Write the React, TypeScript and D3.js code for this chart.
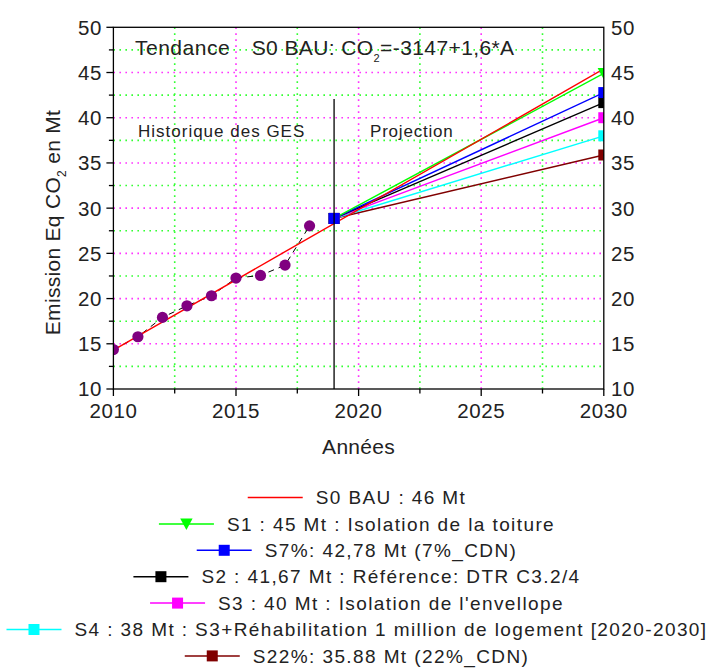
import React, { useEffect, useRef } from 'react';
import * as d3 from 'd3';

// ---------- data ----------
const histYears = [2010, 2011, 2012, 2013, 2014, 2015, 2016, 2017, 2018];
const histValues = [14.36, 15.78, 17.92, 19.2, 20.31, 22.27, 22.56, 23.7, 28.04];
const trendYears = [2010, 2030];
const trendValues = [14.3, 45.4];
const projStartYear = 2019;
const projStartValue = 28.86;
const projEndYear = 2030;
const scenarioNames = ['S1', 'S7%', 'S2', 'S3', 'S4', 'S22%'];
const scenarioEnd = [44.9, 42.78, 41.67, 40, 38, 35.88];
const scenarioColors = ['#00ff00', '#0000ff', '#000000', '#ff00ff', '#00ffff', '#800000'];
const scenarioMarkers = ['triangle', 'square', 'square', 'square', 'square', 'square'];
const legendLabels = [
  'S0 BAU : 46 Mt',
  'S1 : 45 Mt : Isolation de la toiture',
  'S7%: 42,78 Mt (7%_CDN)',
  'S2 : 41,67 Mt : Référence: DTR C3.2/4',
  "S3 : 40 Mt : Isolation de l'envellope",
  'S4 : 38 Mt : S3+Réhabilitation 1 million de logement [2020-2030]',
  'S22%: 35.88 Mt (22%_CDN)',
];
const legendColors = ['#ff0000', ...scenarioColors];
const legendMarkers = ['none', ...scenarioMarkers];
const xMajorTicks = [2010, 2015, 2020, 2025, 2030];
const xMinorTicks = [2012.5, 2017.5, 2022.5, 2027.5];
const yMajorTicks = [10, 15, 20, 25, 30, 35, 40, 45, 50];
const yMinorTicks = [12.5, 17.5, 22.5, 27.5, 32.5, 37.5, 42.5, 47.5];

// ---------- layout ----------
const W = 713;
const H = 668;
const PL = 113.4;
const PR = 603.8;
const PT = 27.3;
const PB = 389;
const FONT = "'Liberation Sans', Arial, sans-serif";
const TXT = '#222';

export default function App() {
  const ref = useRef<SVGSVGElement | null>(null);

  useEffect(() => {
    const svg = d3.select(ref.current);
    svg.selectAll('*').remove();

    const x = d3.scaleLinear().domain([2010, 2030]).range([PL, PR]);
    const y = d3.scaleLinear().domain([10, 50]).range([PB, PT]);

    const defs = svg.append('defs');
    defs.append('clipPath').attr('id', 'plotclip')
      .append('rect').attr('x', PL).attr('y', PT).attr('width', PR - PL).attr('height', PB - PT);

    // grid
    const grid = svg.append('g');
    const gridStyle = (sel: any, color: string) =>
      sel.attr('stroke', color).attr('stroke-width', 1.6).attr('stroke-dasharray', '1.6,4.4');
    xMinorTicks.forEach((t) => gridStyle(grid.append('line').attr('x1', x(t)).attr('x2', x(t)).attr('y1', PT).attr('y2', PB), '#33ff33'));
    yMinorTicks.forEach((t) => gridStyle(grid.append('line').attr('x1', PL).attr('x2', PR).attr('y1', y(t)).attr('y2', y(t)), '#33ff33'));
    xMajorTicks.slice(1, -1).forEach((t) => gridStyle(grid.append('line').attr('x1', x(t)).attr('x2', x(t)).attr('y1', PT).attr('y2', PB), '#ff33ff'));
    yMajorTicks.slice(1, -1).forEach((t) => gridStyle(grid.append('line').attr('x1', PL).attr('x2', PR).attr('y1', y(t)).attr('y2', y(t)), '#ff33ff'));

    const plot = svg.append('g').attr('clip-path', 'url(#plotclip)');
    const line = d3.line<[number, number]>().x((d) => x(d[0])).y((d) => y(d[1]));

    // historical dashed connection
    plot.append('path')
      .attr('d', line(histYears.map((yr, i) => [yr, histValues[i]] as [number, number])))
      .attr('fill', 'none').attr('stroke', '#000').attr('stroke-width', 1).attr('stroke-dasharray', '6,5');

    // scenario lines (reverse so green lies above)
    scenarioNames.map((_, i) => i).reverse().forEach((i) => {
      plot.append('path')
        .attr('d', line([[projStartYear, projStartValue], [projEndYear, scenarioEnd[i]]]))
        .attr('fill', 'none').attr('stroke', scenarioColors[i]).attr('stroke-width', 1.4);
    });

    // trend line
    plot.append('path')
      .attr('d', line(trendYears.map((yr, i) => [yr, trendValues[i]] as [number, number])))
      .attr('fill', 'none').attr('stroke', '#ff0000').attr('stroke-width', 1.4);

    // 2019 separator
    svg.append('line').attr('x1', x(projStartYear)).attr('x2', x(projStartYear))
      .attr('y1', 99).attr('y2', PB).attr('stroke', '#000').attr('stroke-width', 1.3);

    const drawMarker = (g: any, type: string, cx: number, cy: number, color: string) => {
      if (type === 'square') {
        g.append('rect').attr('x', cx - 5.5).attr('y', cy - 5.5).attr('width', 11).attr('height', 11).attr('fill', color);
      } else if (type === 'triangle') {
        g.append('path').attr('d', `M${cx - 6.2},${cy - 5.5}L${cx + 6.2},${cy - 5.5}L${cx},${cy + 6}Z`).attr('fill', color);
      }
    };

    // historical points
    histYears.forEach((yr, i) => {
      plot.append('circle').attr('cx', x(yr)).attr('cy', y(histValues[i])).attr('r', 5.6).attr('fill', '#800080');
    });

    // scenario markers at 2019 (blue on top) and 2030
    const order = [0, 2, 3, 4, 5, 1];
    order.forEach((i) => drawMarker(plot, scenarioMarkers[i], x(projStartYear), y(projStartValue), scenarioColors[i]));
    order.forEach((i) => drawMarker(plot, scenarioMarkers[i], x(projEndYear), y(scenarioEnd[i]), scenarioColors[i]));

    // axes frame
    const axes = svg.append('g').attr('stroke', '#000').attr('stroke-width', 1.3);
    axes.append('rect').attr('x', PL).attr('y', PT).attr('width', PR - PL).attr('height', PB - PT).attr('fill', 'none');
    xMajorTicks.forEach((t) => axes.append('line').attr('x1', x(t)).attr('x2', x(t)).attr('y1', PB).attr('y2', PB + 7));
    xMinorTicks.forEach((t) => axes.append('line').attr('x1', x(t)).attr('x2', x(t)).attr('y1', PB).attr('y2', PB + 4.5));
    yMajorTicks.forEach((t) => axes.append('line').attr('x1', PL - 7).attr('x2', PL).attr('y1', y(t)).attr('y2', y(t)));
    yMinorTicks.forEach((t) => axes.append('line').attr('x1', PL - 4.5).attr('x2', PL).attr('y1', y(t)).attr('y2', y(t)));

    const text = (g: any, s: string, tx: number, ty: number, size: number, anchor: string, ls = 0) =>
      g.append('text').attr('x', tx).attr('y', ty).attr('font-size', size).attr('font-family', FONT)
        .attr('fill', TXT).attr('text-anchor', anchor).style('letter-spacing', `${ls}px`).text(s);

    const labels = svg.append('g');
    xMajorTicks.forEach((t) => text(labels, String(t), x(t), 418, 20.5, 'middle', 0.6));
    yMajorTicks.forEach((t) => {
      text(labels, String(t), 102, y(t) + 7.4, 20.5, 'end', 0.6);
      text(labels, String(t), 611, y(t) + 7.4, 20.5, 'start', 0.6);
    });

    // axis titles
    text(labels, 'Années', (PL + PR) / 2, 454, 21, 'middle', 0.3);
    const yt = labels.append('text')
      .attr('transform', `translate(60, 222.5) rotate(-90)`)
      .attr('text-anchor', 'middle').attr('font-size', 21).attr('font-family', FONT).attr('fill', TXT)
      .style('letter-spacing', '0.3px');
    yt.append('tspan').text('Emission Eq CO');
    yt.append('tspan').attr('dy', 6).attr('font-size', 12).text('2');
    yt.append('tspan').attr('dy', -6).text(' en Mt');

    // annotations
    text(labels, 'Tendance', 135, 55, 21, 'start', 0.5);
    const eq = labels.append('text').attr('x', 251.7).attr('y', 55).attr('font-size', 21)
      .attr('font-family', FONT).attr('fill', TXT).style('letter-spacing', '0.4px');
    eq.append('tspan').text('S0 BAU: CO');
    eq.append('tspan').attr('dy', 7).attr('font-size', 11).text('2');
    eq.append('tspan').attr('dy', -7).text('=-3147+1,6*A');
    text(labels, 'Historique des GES', 138, 136.7, 17, 'start', 1);
    text(labels, 'Projection', 370, 136.7, 17, 'start', 0.8);

    // legend
    const lg = svg.append('g');
    const LINE = 55;
    const GAP = 13;
    const CX = 357;
    legendLabels.forEach((lab, i) => {
      const cy = 497.5 + i * 26.4;
      const row = lg.append('g');
      const t = text(row, lab, 0, cy + 6.6, 19, 'start', 1.4);
      const tw = (t.node() as SVGTextElement).getBBox().width;
      const start = CX - (LINE + GAP + tw) / 2;
      t.attr('x', start + LINE + GAP);
      row.append('line').attr('x1', start).attr('x2', start + LINE).attr('y1', cy).attr('y2', cy)
        .attr('stroke', legendColors[i]).attr('stroke-width', 1.5);
      drawMarker(row, legendMarkers[i], start + LINE / 2, cy, legendColors[i]);
    });
  }, []);

  return (
    <svg
      ref={ref}
      width={W}
      height={H}
      viewBox={`0 0 ${W} ${H}`}
      style={{ position: 'absolute', left: 0, top: 0, background: '#fff' }}
    />
  );
}
